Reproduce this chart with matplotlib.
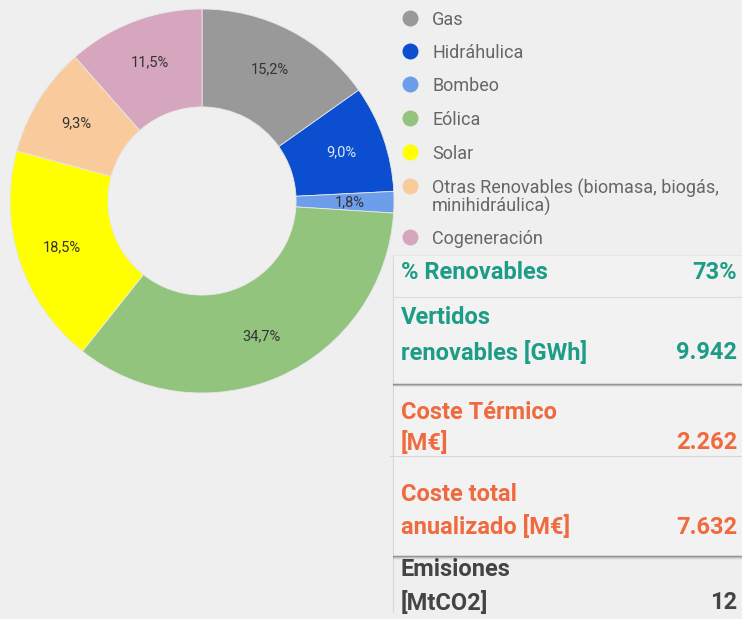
import matplotlib.pyplot as plt
from matplotlib.patches import Rectangle

# mix de generacion (%)
fuentes = ['Gas', 'Hidráhulica', 'Bombeo', 'Eólica', 'Solar',
           'Otras Renovables (biomasa, biogás,\nminihidráulica)', 'Cogeneración']
valores = [15.2, 9.0, 1.8, 34.7, 18.5, 9.3, 11.5]
colores = ['#999999', '#0b4fd0', '#6d9eeb', '#93c47d', '#ffff00', '#f9cb9c', '#d5a6bd']

# indicadores de la tabla
ind_verde = [('% Renovables', '73%'), ('Vertidos\nrenovables [GWh]', '9.942')]
ind_naranja = [('Coste Térmico\n[M€]', '2.262'), ('Coste total\nanualizado [M€]', '7.632')]
ind_gris = [('Emisiones\n[MtCO2]', '12')]

W, H = 742, 619
BG = '#efefef'
VERDE = '#1d9c86'
NARANJA = '#ef6a3f'
GRIS = '#444444'

plt.rcParams['font.family'] = ['Roboto', 'DejaVu Sans']

fig = plt.figure(figsize=(W / 100, H / 100), dpi=100, facecolor=BG)

# donut
cx, cy, r = 202, 201, 192
ax = fig.add_axes([(cx - r) / W, (H - cy - r) / H, 2 * r / W, 2 * r / H])
ax.set_facecolor(BG)
wedges, texts, autotexts = ax.pie(
    valores, colors=colores, startangle=90, counterclock=False,
    radius=1, pctdistance=0.77,
    autopct=lambda p: f'{p:.1f}'.replace('.', ',') + '%',
    wedgeprops=dict(width=0.51, edgecolor='#e8e8e8', linewidth=0.6),
    textprops=dict(fontsize=10.5, color='#333333'))
autotexts[1].set_color('#dde6f5')
ax.set_xlim(-1, 1)
ax.set_ylim(-1, 1)
ax.set_aspect('equal')
ax.axis('off')

# capa para leyenda y tabla, en pixeles
ov = fig.add_axes([0, 0, 1, 1], facecolor='none')
ov.set_xlim(0, W)
ov.set_ylim(H, 0)
ov.axis('off')

# leyenda
filas_y = [18, 51, 84, 118, 152, 186, 237]
for nombre, col, y in zip(fuentes, colores, filas_y):
    ov.plot(410, y, 'o', ms=11.5, color=col, mec='none')
    for k, linea in enumerate(nombre.split('\n')):
        ov.text(432, y + 18 * k, linea, fontsize=13, color='#666666',
                va='center_baseline', ha='left')


def tarjeta(y0, y1):
    # sombra
    for k, a in enumerate([0.20, 0.13, 0.07, 0.03]):
        ov.add_patch(Rectangle((393, y0 + 2), W - 393, y1 - y0 + k,
                               facecolor='#000000', alpha=a, lw=0, zorder=2))
    ov.add_patch(Rectangle((393, y0), W - 393, y1 - y0,
                           facecolor='#f2f2f2', edgecolor='#e2e2e2', lw=0.5, zorder=3))


def fila(nombre, valor, y, gap, color, z=4):
    lineas = nombre.split('\n')
    for k, linea in enumerate(lineas):
        ov.text(401, y + gap * k, linea, fontsize=17, fontweight='bold', color=color,
                va='center_baseline', ha='left', zorder=z)
    ov.text(737, y + gap * (len(lineas) - 1), valor, fontsize=17, fontweight='bold',
            color=color, va='center_baseline', ha='right', zorder=z)


# emisiones (queda parcialmente debajo de la tarjeta naranja)
ov.plot([393, 393], [255, 612], color='#d8d8d8', lw=0.8, zorder=1)
for (nombre, valor), (y, g) in zip(ind_gris, [(567, 33)]):
    fila(nombre, valor, y, g, GRIS, z=1)

tarjeta(255, 383)
for (nombre, valor), (y, g) in zip(ind_verde, [(270, 0), (315, 35)]):
    fila(nombre, valor, y, g, VERDE)
ov.plot([393, W], [297, 297], color='#dddddd', lw=0.8, zorder=4)

tarjeta(386, 555)
for (nombre, valor), (y, g) in zip(ind_naranja, [(410, 30), (492, 33)]):
    fila(nombre, valor, y, g, NARANJA)
ov.plot([390, W], [456, 456], color='#d6d6d6', lw=0.8, zorder=4)

fig.savefig('out.png', dpi=100, facecolor=BG)
